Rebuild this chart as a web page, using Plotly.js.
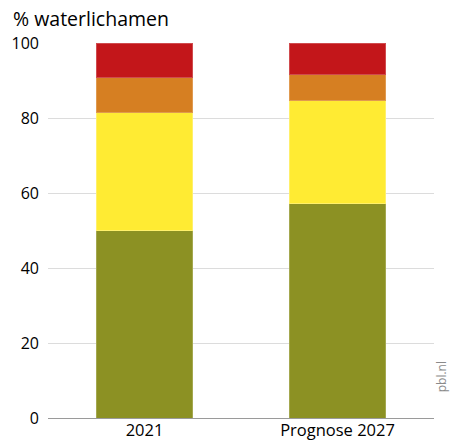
<!DOCTYPE html>
<html>
<head>
<meta charset="utf-8">
<script src="https://cdn.plot.ly/plotly-3.0.1.min.js"></script>
<style>html,body{margin:0;padding:0;background:#fff;}#chart{width:450px;height:448px;}</style>
</head>
<body>
<div id="chart"></div>
<script>
const categories = ["2021", "Prognose 2027"];
const seriesNames = ["Goed", "Matig", "Ontoereikend", "Slecht"];
const green = [50.0, 57.2];
const yellow = [31.6, 27.5];
const orange = [9.1, 6.8];
const red = [9.3, 8.5];
const tickVals = [0, 20, 40, 60, 80, 100];

const colors = ["#8c9123", "#ffeb33", "#d67f22", "#c3161a"];
const lineColors = ["#a4a84f", "#fff06a", "#e09a50", "#d04b4e"];
const values = [green, yellow, orange, red];

const traces = values.map((v, i) => ({
  type: "bar",
  x: categories,
  y: v,
  name: seriesNames[i],
  marker: {color: colors[i], line: {color: lineColors[i], width: 1}},
  hoverinfo: "skip"
}));

const layout = {
  width: 450, height: 448,
  margin: {l: 48, r: 16, t: 43, b: 30},
  barmode: "stack",
  bargap: 0.5,
  showlegend: false,
  paper_bgcolor: "#fff",
  plot_bgcolor: "#fff",
  font: {family: "Open Sans, sans-serif", color: "#000"},
  xaxis: {
    type: "category",
    tickfont: {size: 16.5, color: "#000"},
    ticks: "", showgrid: false, zeroline: false,
    showline: false
  },
  yaxis: {
    range: [0, 100],
    tickvals: tickVals,
    ticktext: tickVals.map(String),
    tickfont: {size: 16, color: "#000"},
    gridcolor: "#dcdcdc", gridwidth: 1,
    zeroline: true, zerolinecolor: "#9a9a9a", zerolinewidth: 1,
    ticks: "", ticklabelstandoff: 8,
    showline: false, fixedrange: true
  },
  annotations: [
    {text: "% waterlichamen", xref: "paper", yref: "paper", x: -0.095, y: 1.0,
     xanchor: "left", yanchor: "bottom", yshift: 9, showarrow: false,
     font: {size: 19.5, color: "#000"}},
    {text: "pbl.nl", xref: "paper", yref: "paper", x: 1.0, y: 0.11,
     xanchor: "left", yanchor: "middle", xshift: -3, textangle: -90, showarrow: false,
     font: {size: 12, color: "#8a8a8a"}}
  ]
};

Plotly.newPlot("chart", traces, layout, {displayModeBar: false, staticPlot: true});
</script>
</body>
</html>
